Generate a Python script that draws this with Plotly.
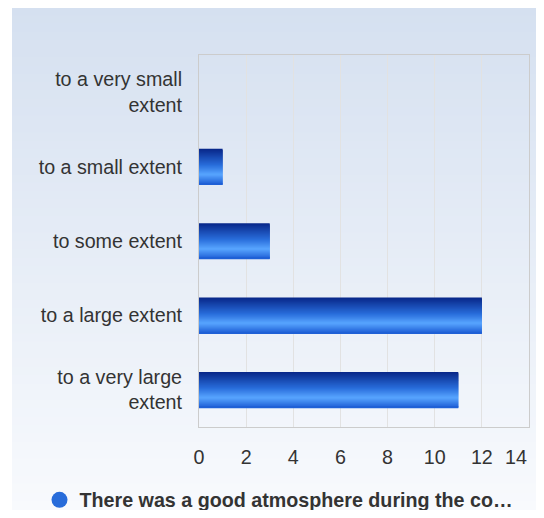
import plotly.graph_objects as go

categories = ["to a very small<br>extent", "to a small extent", "to some extent",
              "to a large extent", "to a very large<br>extent"]
values = [0, 1, 3, 12, 11]
series_name = "There was a good atmosphere during the co…"
x_ticks = [0, 2, 4, 6, 8, 10, 12, 14]
x_tick_labels = ["0", "2", "4", "6", "8", "10", "12", "14"]

# figure sits at an 8px page offset inside the 544x518 window
W, H = 536, 502
ML, MR, MT, MB = 191, 15, 47, 83
PW, PH = W - ML - MR, H - MT - MB
FS = 19.7


def lerp(c1, c2, t):
    return tuple(round(a + (b - a) * t) for a, b in zip(c1, c2))


def grad(stops, t):
    for (t0, c0), (t1, c1) in zip(stops, stops[1:]):
        if t <= t1:
            return lerp(c0, c1, (t - t0) / (t1 - t0) if t1 > t0 else 0)
    return stops[-1][1]


bar_stops = [(0.0, (8, 38, 135)), (0.45, (40, 108, 218)),
             (0.72, (88, 165, 255)), (1.0, (28, 92, 212))]

fig = go.Figure()

n_strips = 36
bar_w = 0.48
h = bar_w / n_strips
for i in range(n_strips):
    c = grad(bar_stops, (i + 0.5) / n_strips)
    wi = h * 2.5 if i < n_strips - 1 else h
    fig.add_trace(go.Bar(
        x=values, y=categories, orientation="h",
        width=[wi] * len(values), offset=[-bar_w / 2 + i * h] * len(values),
        marker=dict(color="rgb(%d,%d,%d)" % c, line=dict(width=0)),
        showlegend=False, hoverinfo="skip"))

fig.add_trace(go.Scatter(
    x=[None], y=[None], mode="markers", name=series_name,
    marker=dict(symbol="circle", size=18, color="rgb(40,108,218)")))

# background gradient strips (paper coordinates)
px = lambda p: (p - ML) / PW
py = lambda p: (H - MB - p) / PH
bg_top, bg_bot = 0, H
n_bg = 60
shapes = []
for i in range(n_bg):
    y0p = bg_top + (bg_bot - bg_top) * i / n_bg
    y1p = bg_top + (bg_bot - bg_top) * (i + 1) / n_bg
    c = lerp((213, 224, 240), (248, 250, 253), (i + 0.5) / n_bg)
    shapes.append(dict(type="rect", xref="paper", yref="paper",
                       x0=px(4), x1=px(W), y0=py(y1p), y1=py(y0p) + 0.003,
                       fillcolor="rgb(%d,%d,%d)" % c, line=dict(width=0),
                       layer="below"))

# the last tick label is drawn right-aligned to the axis end, as in the reference
shown_text = x_tick_labels[:-1] + [""]
annotations = [dict(x=x_ticks[-1], xref="x", y=0, yref="paper", text=x_tick_labels[-1],
                    xanchor="right", yanchor="middle", yshift=-29.5, showarrow=False,
                    font=dict(size=FS, color="#333333"))]

fig.update_layout(
    width=W, height=H,
    margin=dict(l=ML, r=MR, t=MT, b=MB, autoexpand=False),
    paper_bgcolor="white", plot_bgcolor="rgba(0,0,0,0)",
    barmode="overlay",
    shapes=shapes,
    annotations=annotations,
    font=dict(family="Liberation Sans, Arial, sans-serif", size=FS, color="#333333"),
    legend=dict(orientation="h", xref="container", yref="container",
                x=271 / W, xanchor="center", y=1 - 492 / H, yanchor="middle",
                font=dict(size=FS, color="#333333", weight="bold"),
                bgcolor="rgba(0,0,0,0)", itemwidth=30),
    xaxis=dict(range=[0, 14], tickvals=x_ticks, ticktext=shown_text,
               showgrid=True, gridcolor="#e2e2e2",
               zeroline=False, showline=True, mirror=True, linecolor="#cccccc",
               linewidth=1, ticks="outside", ticklen=12, tickcolor="rgba(0,0,0,0)",
               fixedrange=True, automargin=False),
    yaxis=dict(categoryorder="array", categoryarray=categories, autorange="reversed",
               showgrid=False, showline=True, mirror=True, linecolor="#cccccc",
               linewidth=1, ticks="outside", ticklen=12, tickcolor="rgba(0,0,0,0)",
               fixedrange=True, automargin=False),
)

fig.write_html("out.html")
